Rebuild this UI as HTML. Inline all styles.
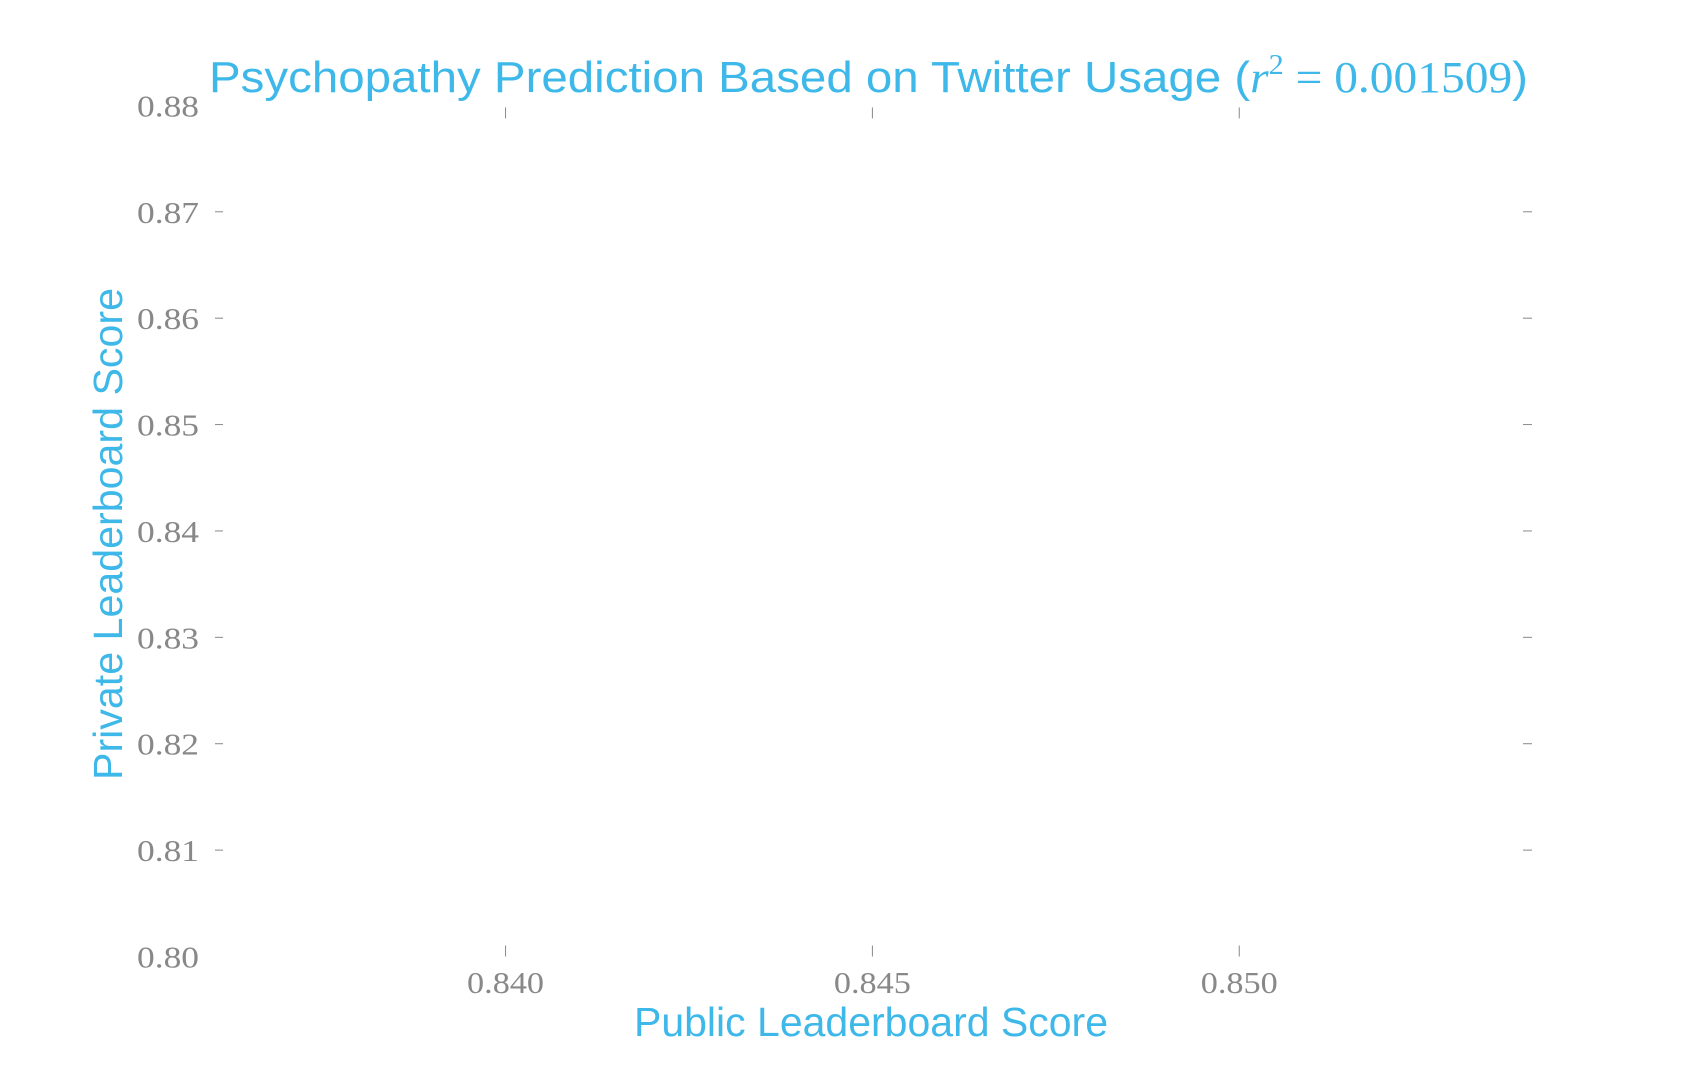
<!DOCTYPE html>
<html><head><meta charset="utf-8"><style>
html,body{margin:0;padding:0;background:#fff;}
svg{display:block;}
</style></head><body>
<svg id="chart" width="1704" height="1065" viewBox="0 0 1704 1065" xmlns="http://www.w3.org/2000/svg">
<text x="209" y="92" font-family="Liberation Sans, sans-serif" font-size="44" fill="#3db8e8" textLength="1319" lengthAdjust="spacingAndGlyphs">Psychopathy Prediction Based on Twitter Usage (<tspan font-family="Liberation Serif, serif" font-style="italic">r</tspan><tspan font-family="Liberation Serif, serif" font-size="28" dy="-18">2</tspan><tspan font-family="Liberation Serif, serif" dy="18"> = 0.001509</tspan>)</text>
<text x="871" y="1036" text-anchor="middle" font-family="Liberation Sans, sans-serif" font-size="41" fill="#3db8e8" textLength="474" lengthAdjust="spacingAndGlyphs">Public Leaderboard Score</text>
<text transform="translate(122,534) rotate(-90)" text-anchor="middle" font-family="Liberation Sans, sans-serif" font-size="41" fill="#3db8e8" textLength="492" lengthAdjust="spacingAndGlyphs">Private Leaderboard Score</text>
<g id="axes"></g>
<g id="marks"></g>
</svg>
<script>
const xTicks = [0.840, 0.845, 0.850];
const xTickLabels = ["0.840", "0.845", "0.850"];
const yTicks = [0.80, 0.81, 0.82, 0.83, 0.84, 0.85, 0.86, 0.87, 0.88];
const yTickLabels = ["0.80", "0.81", "0.82", "0.83", "0.84", "0.85", "0.86", "0.87", "0.88"];
const xValues = [];
const yValues = [];

const X0 = 215, X1 = 1532, Y0 = 956.5, Y1 = 105.4;
const xMin = 0.83604, xMax = 0.85399, yMin = 0.80, yMax = 0.88;
function sx(v){ return X0 + (v - xMin) / (xMax - xMin) * (X1 - X0); }
function sy(v){ return Y0 - (v - yMin) / (yMax - yMin) * (Y0 - Y1); }
const NS = "http://www.w3.org/2000/svg";
const axes = document.getElementById('axes');
const marks = document.getElementById('marks');
function mk(tag, attrs, parent){ const e = document.createElementNS(NS, tag); for (const k in attrs) e.setAttribute(k, attrs[k]); parent.appendChild(e); return e; }

xTicks.forEach((v, i) => {
  const x = sx(v);
  const t1 = mk('line', {x1:x, x2:x, y1:Y1+2, y2:Y1+13, stroke:'#888', 'stroke-width':1}, axes);
  
  
  const t2 = mk('line', {x1:x, x2:x, y1:Y0-11, y2:Y0, stroke:'#888', 'stroke-width':1}, axes);
  
  
  const lb = mk('text', {x:x, y:993, 'text-anchor':'middle', 'font-family':'Liberation Serif, serif', 'font-size':31, fill:'#888', textLength:77, lengthAdjust:'spacingAndGlyphs'}, axes);
  lb.textContent = xTickLabels[i];
  
  
});
yTicks.forEach((v, i) => {
  const y = sy(v);
  if (i > 0 && i < yTicks.length - 1) {
    const t1 = mk('line', {x1:215, x2:223, y1:y, y2:y, stroke:'#888', 'stroke-width':1}, axes);
    
    
    const t2 = mk('line', {x1:1523, x2:1532, y1:y, y2:y, stroke:'#888', 'stroke-width':1}, axes);
    
    
  }
  const lb = mk('text', {x:199, y:y+11, 'text-anchor':'end', 'font-family':'Liberation Serif, serif', 'font-size':31, fill:'#888', textLength:62, lengthAdjust:'spacingAndGlyphs'}, axes);
  lb.textContent = yTickLabels[i];
  
  
});
xValues.forEach((v, i) => {
  const c = mk('circle', {cx:sx(v), cy:sy(yValues[i]), r:5, fill:'#3db8e8'}, marks);
  
  
});
</script>
</body></html>
